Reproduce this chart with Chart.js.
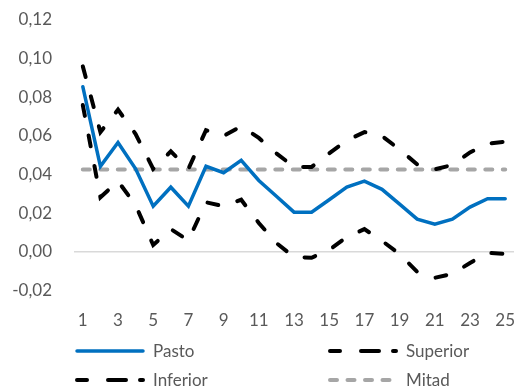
<!DOCTYPE html>
<html>
<head>
<meta charset="utf-8">
<script src="https://cdn.jsdelivr.net/npm/chart.js@4.4.1/dist/chart.umd.min.js"></script>
<style>
  html, body { margin: 0; padding: 0; background: #ffffff; }
  #wrap { width: 520px; height: 389px; position: relative; }
</style>
</head>
<body>
<div id="wrap"><canvas id="chart" width="520" height="389"></canvas></div>
<script>
// Periods 1..25
const periods = Array.from({ length: 25 }, (_, i) => String(i + 1));

// Observed series
const pasto = [0.0855, 0.0443, 0.0566, 0.0430, 0.0237, 0.0335, 0.0237, 0.0443, 0.0410, 0.0474,
               0.0370, 0.0288, 0.0206, 0.0206, 0.0270, 0.0335, 0.0366, 0.0324, 0.0247, 0.0170,
               0.0144, 0.0170, 0.0232, 0.0275, 0.0275];

// Upper band
const superior = [0.0960, 0.0620, 0.0736, 0.0610, 0.0430, 0.0520, 0.0430, 0.0630, 0.0600, 0.0650,
                  0.0590, 0.0510, 0.0440, 0.0440, 0.0510, 0.0577, 0.0620, 0.0600, 0.0530, 0.0453,
                  0.0427, 0.0450, 0.0515, 0.0560, 0.0570];

// Lower band
const inferior = [0.0760, 0.0283, 0.0366, 0.0242, 0.0036, 0.0118, 0.0060, 0.0257, 0.0237, 0.0270,
                  0.0150, 0.0046, -0.0026, -0.0030, 0.0010, 0.0077, 0.0118, 0.0057, -0.0010, -0.0103,
                  -0.0134, -0.0113, -0.0057, -0.0005, -0.0010];

// Centre line
const mitadValue = 0.0427;
const mitad = periods.map(() => mitadValue);

// Axis settings
const yMin = -0.02, yMax = 0.12, yStep = 0.02;

const FONT = "Lato, 'Open Sans', sans-serif";
const TEXT = '#595959';

const BAND_DASH = [11, 20];
const MID_DASH = [7, 10.5];

// Two-column legend drawn under the x labels
const gridLegend = {
  id: 'gridLegend',
  afterDraw(chart) {
    const ctx = chart.ctx;
    const ds = chart.data.datasets;
    const cols = [77, 330];
    const rows = [351, 380];
    const sampleLen = 66;
    ctx.save();
    ds.forEach((d, i) => {
      const x = cols[i % 2];
      const y = rows[Math.floor(i / 2)];
      ctx.beginPath();
      ctx.strokeStyle = d.borderColor;
      ctx.lineWidth = d.borderWidth;
      ctx.lineCap = d.borderCapStyle || 'butt';
      ctx.setLineDash(d.legendDash || []);
      ctx.moveTo(x, y);
      ctx.lineTo(x + sampleLen, y);
      ctx.stroke();
      ctx.setLineDash([]);
      ctx.fillStyle = TEXT;
      ctx.font = "17px " + FONT;
      ctx.textBaseline = 'middle';
      ctx.textAlign = 'left';
      ctx.fillText(d.label, x + sampleLen + 10, y + 1);
    });
    ctx.restore();
  }
};

new Chart(document.getElementById('chart'), {
  type: 'line',
  data: {
    labels: periods,
    datasets: [
      {
        label: 'Pasto',
        data: pasto,
        borderColor: '#0070C0',
        borderWidth: 3.5,
        borderCapStyle: 'round',
        borderJoinStyle: 'miter',
        pointRadius: 0,
        tension: 0,
        legendDash: [],
        order: 1
      },
      {
        label: 'Superior',
        data: superior,
        borderColor: '#000000',
        borderWidth: 4,
        borderDash: BAND_DASH,
        borderCapStyle: 'round',
        pointRadius: 0,
        tension: 0,
        legendDash: [10, 21, 18, 14, 4, 100],
        order: 2
      },
      {
        label: 'Inferior',
        data: inferior,
        borderColor: '#000000',
        borderWidth: 4,
        borderDash: BAND_DASH,
        borderCapStyle: 'round',
        pointRadius: 0,
        tension: 0,
        legendDash: [10, 21, 18, 14, 4, 100],
        order: 3
      },
      {
        label: 'Mitad',
        data: mitad,
        borderColor: '#A6A6A6',
        borderWidth: 4,
        borderDash: MID_DASH,
        borderCapStyle: 'round',
        pointRadius: 0,
        tension: 0,
        legendDash: [7, 10.5],
        order: 4
      }
    ]
  },
  options: {
    responsive: false,
    animation: false,
    events: [],
    layout: { padding: { left: 0, right: 6, top: 20, bottom: 38 } },
    plugins: {
      legend: { display: false },
      tooltip: { enabled: false }
    },
    scales: {
      x: {
        offset: true,
        afterFit: (s) => { s.paddingLeft = 0; s.paddingRight = 0; },
        grid: { display: false, drawTicks: false },
        border: { display: false },
        ticks: {
          autoSkip: false,
          maxRotation: 0,
          padding: 20,
          color: TEXT,
          font: { family: FONT, size: 17 },
          callback: function (v, i) { return i % 2 === 0 ? periods[i] : ''; }
        }
      },
      y: {
        min: yMin,
        max: yMax,
        afterFit: (s) => { s.width = 74; s.paddingTop = 0; s.paddingBottom = 0; },
        grid: {
          drawTicks: false,
          lineWidth: 1.5,
          color: (c) => (c.tick && Math.abs(c.tick.value) < 1e-9 ? '#D9D9D9' : 'rgba(0,0,0,0)')
        },
        border: { display: false },
        ticks: {
          stepSize: yStep,
          padding: 22,
          color: TEXT,
          font: { family: FONT, size: 17 },
          callback: (v) => (Math.abs(v) < 1e-9 ? 0 : v).toFixed(2).replace('.', ',')
        }
      }
    }
  },
  plugins: [gridLegend]
});
</script>
</body>
</html>
